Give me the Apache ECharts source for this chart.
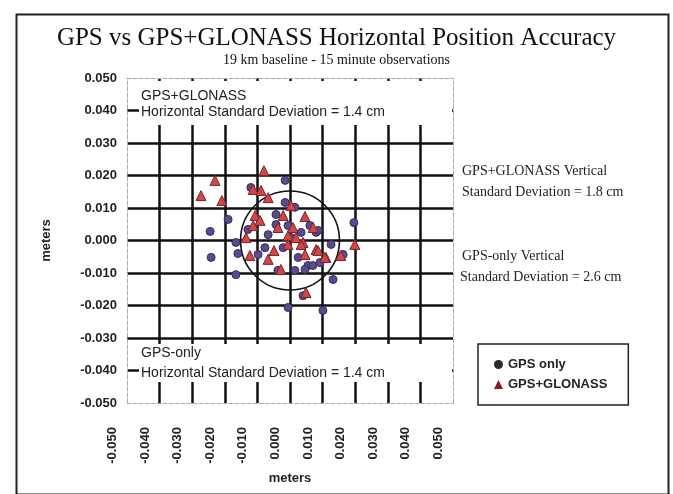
<!DOCTYPE html>
<html><head><meta charset="UTF-8">
<title>GPS vs GPS+GLONASS</title>
<style>html,body{margin:0;padding:0;background:#fff}#chart{width:673px;height:494px}</style>
</head>
<body>
<div id="chart"></div>
<script src="https://cdn.jsdelivr.net/npm/echarts@6/dist/echarts.min.js"></script>
<script>
// GPS only: [east m, north m]
const gpsOnly = [
    [-0.0015, 0.0185], [-0.0120, 0.0163], [-0.0190, 0.0065], [-0.0245, 0.0028],
    [-0.0242, -0.0052], [-0.0166, -0.0105], [-0.0160, -0.0040], [-0.0166, -0.0006],
    [-0.0098, -0.0043], [-0.0067, 0.0018], [-0.0043, 0.0080], [-0.0015, 0.0117],
    [0.0015, 0.0102], [-0.0006, 0.0046], [0.0034, 0.0025], [0.0080, 0.0025],
    [0.0086, 0.0031], [0.0126, -0.0012], [0.0092, -0.0068], [0.0055, -0.0077],
    [0.0015, -0.0092], [-0.0037, -0.0092], [0.0132, -0.0120], [0.0196, 0.0055],
    [-0.0006, -0.0206], [0.0101, -0.0215], [0.0040, -0.0170], [-0.0077, -0.0022],
    [0.0025, -0.0052], [0.0046, -0.0089], [0.0070, -0.0077], [0.0163, -0.0043],
    [-0.0043, 0.0049], [0.0003, 0.0009], [0.0061, 0.0046], [-0.0021, -0.0022],
    [-0.0129, 0.0034]
];
// GPS+GLONASS: [east m, north m]
const gpsGlonass = [
    [-0.0080, 0.0215], [-0.0230, 0.0185], [-0.0273, 0.0138], [-0.0209, 0.0123],
    [-0.0113, 0.0157], [-0.0089, 0.0154], [-0.0067, 0.0132], [-0.0107, 0.0077],
    [-0.0113, 0.0046], [-0.0135, 0.0009], [-0.0123, -0.0046], [-0.0049, -0.0031],
    [-0.0037, 0.0040], [-0.0006, 0.0015], [-0.0006, -0.0012], [0.0046, 0.0074],
    [0.0071, 0.0040], [0.0040, -0.0006], [0.0046, -0.0043], [0.0080, -0.0028],
    [0.0110, -0.0052], [0.0156, -0.0046], [0.0199, -0.0012], [-0.0028, -0.0089],
    [0.0049, -0.0160], [0.0003, 0.0108], [-0.0021, 0.0077], [0.0034, -0.0012],
    [0.0086, -0.0031], [0.0107, -0.0052], [0.0018, 0.0009], [0.0009, 0.0040],
    [-0.0092, 0.0062], [-0.0067, -0.0058]
];
// horizontal std dev circle: [centre x, centre y, radius]
const sdCircle = [[0, 0, 0.0152]];
const seriesNames = ['GPS only', 'GPS+GLONASS'];

const chart = echarts.init(document.getElementById('chart'));
const fmt = v => (Math.round(v * 1000) / 1000).toFixed(3);
const lbl = { fontFamily: 'Liberation Sans, Arial', fontWeight: 'bold', fontSize: 13, color: '#222' };
const serif = { fontFamily: 'Liberation Serif, Times New Roman', fontSize: 14, fill: '#222' };
const sans = '14px Liberation Sans';

chart.setOption({
    animation: false,
    backgroundColor: '#fff',
    title: {
        text: 'GPS vs GPS+GLONASS Horizontal Position Accuracy',
        subtext: '19 km baseline - 15 minute observations',
        left: 'center', top: 21, itemGap: 2,
        textStyle: { fontFamily: 'Liberation Serif', fontWeight: 'normal', fontSize: 25, color: '#111' },
        subtextStyle: { fontFamily: 'Liberation Serif', fontSize: 14, color: '#111' }
    },
    grid: { left: 127, right: 220, top: 78, bottom: 91 },
    legend: {
        orient: 'vertical', left: 478, top: 344,
        padding: [14, 21, 14, 16], itemGap: 7, itemWidth: 9, itemHeight: 9,
        borderColor: '#222', borderWidth: 1.5,
        textStyle: { fontFamily: 'Liberation Sans', fontWeight: 'bold', fontSize: 13, color: '#222' },
        data: [
            { name: seriesNames[0], icon: 'circle', itemStyle: { color: '#2a2a2a', borderWidth: 0 } },
            { name: seriesNames[1], icon: 'triangle', itemStyle: { color: '#8b1a1a', borderWidth: 0 } }
        ]
    },
    xAxis: [{
        type: 'value', min: -0.05, max: 0.05, interval: 0.01,
        name: 'meters', nameLocation: 'middle', nameGap: 66,
        nameTextStyle: { fontFamily: 'Liberation Sans', fontWeight: 'bold', fontSize: 13, color: '#222' },
        axisLine: { onZero: false, lineStyle: { color: '#aaa', type: 'dashed', width: 1 } },
        axisTick: { show: false },
        // labels sit a little left of their gridlines, as in the original
        axisLabel: Object.assign({ rotate: 90, margin: 24, formatter: fmt, verticalAlign: 'bottom', lineHeight: 29 }, lbl),
        splitLine: { show: true, showMinLine: false, showMaxLine: false, lineStyle: { color: '#111', width: 2.5 } }
    }, {
        type: 'value', position: 'top', min: -0.05, max: 0.05, interval: 0.01,
        axisLine: { onZero: false, lineStyle: { color: '#aaa', type: 'dashed', width: 1 } },
        axisTick: { show: false }, axisLabel: { show: false }, splitLine: { show: false }
    }],
    yAxis: [{
        type: 'value', min: -0.05, max: 0.05, interval: 0.01,
        name: 'meters', nameLocation: 'middle', nameGap: 74,
        nameTextStyle: { fontFamily: 'Liberation Sans', fontWeight: 'bold', fontSize: 13, color: '#222' },
        axisLine: { show: true, onZero: false, lineStyle: { color: '#aaa', type: 'dashed', width: 1 } },
        axisTick: { show: false },
        axisLabel: Object.assign({ margin: 10, formatter: fmt }, lbl),
        splitLine: { show: true, showMinLine: false, showMaxLine: false, lineStyle: { color: '#111', width: 2.5 } }
    }, {
        type: 'value', position: 'right', min: -0.05, max: 0.05, interval: 0.01,
        axisLine: { show: true, onZero: false, lineStyle: { color: '#aaa', type: 'dashed', width: 1 } },
        axisTick: { show: false }, axisLabel: { show: false }, splitLine: { show: false }
    }],
    series: [{
        name: 'sd',
        type: 'custom',
        data: sdCircle,
        z: 3,
        renderItem: (params, api) => {
            const c = api.coord([api.value(0), api.value(1)]);
            const s = api.size([api.value(2), api.value(2)]);
            return {
                type: 'circle',
                shape: { cx: c[0], cy: c[1], r: (s[0] + s[1]) / 2 },
                style: { fill: 'none', stroke: '#111', lineWidth: 1.6 }
            };
        }
    }, {
        name: seriesNames[0], type: 'scatter', data: gpsOnly, z: 4,
        symbol: 'circle', symbolSize: 8,
        itemStyle: { color: '#5a4a8e', borderColor: '#3a2c5c', borderWidth: 1, opacity: 1 }
    }, {
        name: seriesNames[1], type: 'scatter', data: gpsGlonass, z: 5,
        symbol: 'triangle', symbolSize: 10,
        itemStyle: { color: '#d8443e', borderColor: '#6a2a3a', borderWidth: 1, opacity: 1 }
    }],
    graphic: [
        { type: 'rect', left: 14, top: 12, z: 10, shape: { width: 652, height: 480 },
          style: { fill: 'none', stroke: '#222', lineWidth: 2 } },
        // white label boxes over the grid
        { type: 'rect', left: 139, top: 81, z: 8, shape: { width: 313, height: 44 }, style: { fill: '#fff' } },
        { type: 'text', left: 141, top: 89, z: 9,
          style: { text: 'GPS+GLONASS', font: sans, fill: '#222' } },
        { type: 'text', left: 141, top: 105, z: 9,
          style: { text: 'Horizontal Standard Deviation = 1.4 cm', font: sans, fill: '#222' } },
        { type: 'rect', left: 139, top: 344, z: 8, shape: { width: 313, height: 38 }, style: { fill: '#fff' } },
        { type: 'text', left: 141, top: 346, z: 9,
          style: { text: 'GPS-only', font: sans, fill: '#222' } },
        { type: 'text', left: 141, top: 366, z: 9,
          style: { text: 'Horizontal Standard Deviation = 1.4 cm', font: sans, fill: '#222' } },
        // vertical std dev notes
        { type: 'text', left: 462, top: 164, z: 9,
          style: Object.assign({ text: 'GPS+GLONASS Vertical' }, serif) },
        { type: 'text', left: 462, top: 185, z: 9,
          style: Object.assign({ text: 'Standard Deviation = 1.8 cm' }, serif) },
        { type: 'text', left: 462, top: 249, z: 9,
          style: Object.assign({ text: 'GPS-only Vertical' }, serif) },
        { type: 'text', left: 460, top: 270, z: 9,
          style: Object.assign({ text: 'Standard Deviation = 2.6 cm' }, serif) }
    ]
});
</script>
</body></html>
